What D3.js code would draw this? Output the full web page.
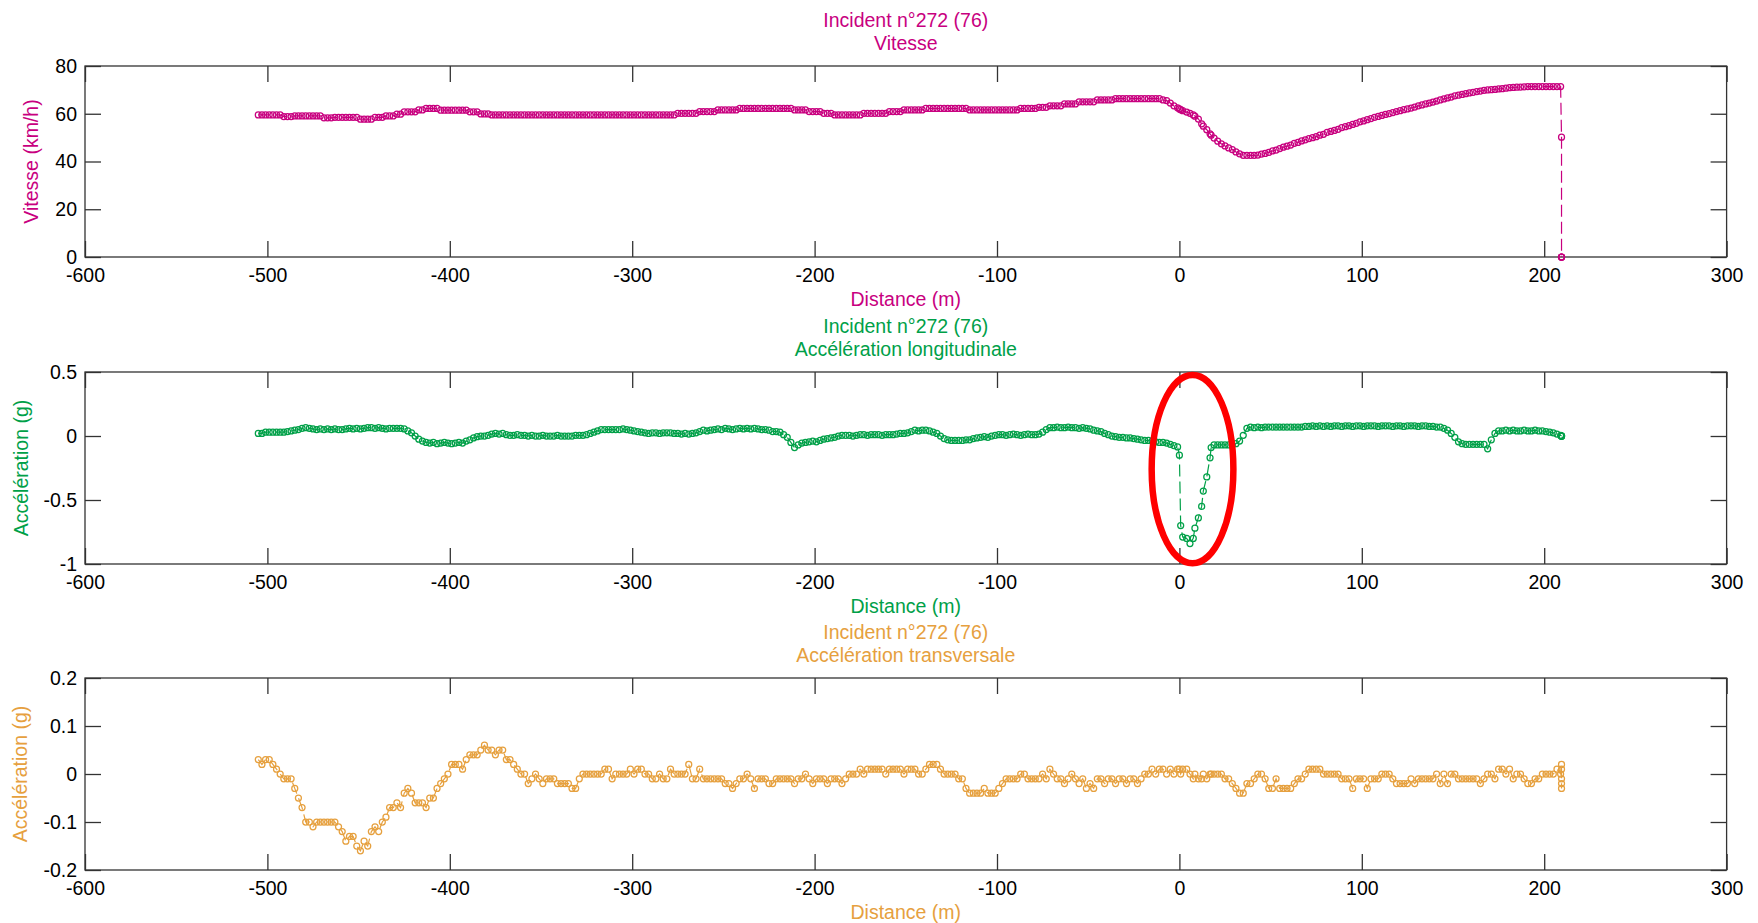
<!DOCTYPE html>
<html><head><meta charset="utf-8">
<script src="https://cdn.jsdelivr.net/npm/d3@7"></script>
<style>
html,body{margin:0;padding:0;background:#fff;}
svg{display:block;}
</style></head><body>
<svg id="chart" width="1758" height="923"></svg>
<script>
// ---------------- DATA ----------------
const distance = [
-505,-503,-501,-499,-497,-495,-493,-491,-489,-487,
-485,-483,-481,-479,-477,-475,-473,-471,-469,-467,
-465,-463,-461,-459,-457,-455,-453,-451,-449,-447,
-445,-443,-441,-439,-437,-435,-433,-431,-429,-427,
-425,-423,-421,-419,-417,-415,-413,-411,-409,-407,
-405,-403,-401,-399,-397,-395,-393,-391,-389,-387,
-385,-383,-381,-379,-377,-375,-373,-371,-369,-367,
-365,-363,-361,-359,-357,-355,-353,-351,-349,-347,
-345,-343,-341,-339,-337,-335,-333,-331,-329,-327,
-325,-323,-321,-319,-317,-315,-313,-311,-309,-307,
-305,-303,-301,-299,-297,-295,-293,-291,-289,-287,
-285,-283,-281,-279,-277,-275,-273,-271,-269,-267,
-265,-263,-261,-259,-257,-255,-253,-251,-249,-247,
-245,-243,-241,-239,-237,-235,-233,-231,-229,-227,
-225,-223,-221,-219,-217,-215,-213,-211,-209,-207,
-205,-203,-201,-199,-197,-195,-193,-191,-189,-187,
-185,-183,-181,-179,-177,-175,-173,-171,-169,-167,
-165,-163,-161,-159,-157,-155,-153,-151,-149,-147,
-145,-143,-141,-139,-137,-135,-133,-131,-129,-127,
-125,-123,-121,-119,-117,-115,-113,-111,-109,-107,
-105,-103,-101,-99,-97,-95,-93,-91,-89,-87,
-85,-83,-81,-79,-77,-75,-73,-71,-69,-67,
-65,-63,-61,-59,-57,-55,-53,-51,-49,-47,
-45,-43,-41,-39,-37,-35,-33,-31,-29,-27,
-25,-23,-21,-19,-17,-15,-13,-11,-9,-7,
-5,-3,-1,
0,0.7,1.8,4.0,5.8,7.6,8.5,10.4,12.2,13.1,15.0,16.8,17.4,
19,21,23,25,27,29,31,33,35,37,
39,41,43,45,47,49,51,53,55,57,
59,61,63,65,67,69,71,73,75,77,
79,81,83,85,87,89,91,93,95,97,
99,101,103,105,107,109,111,113,115,117,
119,121,123,125,127,129,131,133,135,137,
139,141,143,145,147,149,151,153,155,157,
159,161,163,165,167,169,171,173,175,177,
179,181,183,185,187,189,191,193,195,197,
199,201,203,205,207,209,
209.5,209.5,209.5,209.5,209.5
];

const vitesse = [
59.5,59.5,59.5,59.5,59.5,59.5,59.5,58.8,58.8,58.8,
59.1,59.1,59.1,59.1,59.1,59.1,59.1,59.1,58.3,58.3,
58.3,58.5,58.5,58.5,58.5,58.5,58.5,58.5,57.7,57.7,
57.7,57.7,58.5,58.5,58.5,59.1,59.1,59.1,59.8,59.8,
60.8,60.8,60.8,60.8,61.6,61.6,62.2,62.2,62.2,62.2,
61.5,61.5,61.5,61.5,61.5,61.5,61.5,61.5,60.8,60.8,
60.8,59.9,59.9,59.9,59.5,59.5,59.5,59.5,59.5,59.5,
59.5,59.5,59.5,59.5,59.5,59.5,59.5,59.5,59.5,59.5,
59.5,59.5,59.5,59.5,59.5,59.5,59.5,59.5,59.5,59.5,
59.5,59.5,59.5,59.5,59.5,59.5,59.5,59.5,59.5,59.5,
59.5,59.5,59.5,59.5,59.5,59.5,59.5,59.5,59.5,59.5,
59.5,59.5,59.5,59.5,59.5,60.2,60.2,60.2,60.2,60.2,
60.2,60.9,60.9,60.9,60.9,60.9,61.6,61.6,61.6,61.6,
61.6,61.6,62.2,62.2,62.2,62.2,62.2,62.2,62.2,62.2,
62.2,62.2,62.2,62.2,62.2,62.2,62.2,61.6,61.6,61.6,
61.6,60.9,60.9,60.9,60.9,60.2,60.2,60.2,59.5,59.5,
59.5,59.5,59.5,59.5,59.5,59.5,60.2,60.2,60.2,60.2,
60.2,60.2,60.2,60.9,60.9,60.9,60.9,61.6,61.6,61.6,
61.6,61.6,61.6,62.2,62.2,62.2,62.2,62.2,62.2,62.2,
62.2,62.2,62.2,62.2,62.2,61.6,61.6,61.6,61.6,61.6,
61.6,61.6,61.6,61.6,61.6,61.6,61.6,61.6,61.6,62.2,
62.2,62.2,62.2,62.2,62.7,62.7,62.7,63.3,63.3,63.3,
63.3,64.1,64.1,64.1,64.1,65.0,65.0,65.0,65.0,65.0,
65.8,65.8,65.8,65.8,65.8,66.3,66.3,66.3,66.3,66.3,
66.3,66.3,66.3,66.3,66.3,66.3,66.3,66.3,65.8,65.5,
64.5,63.3,62.5,
62.0,61.7,61.3,60.7,60.2,59.5,59.0,57.8,55.8,54.8,53.3,51.6,51.0,
49.8,48.5,47.4,46.5,45.7,45.0,44.0,43.2,42.6,42.6,
42.6,42.6,42.7,43.1,43.4,43.8,44.4,44.8,45.4,46.0,
46.4,46.9,47.6,48.0,48.6,49.1,49.6,50.0,50.4,51.0,
51.4,52.2,52.6,53.0,53.5,54.2,54.6,55.0,55.5,56.0,
56.6,57.0,57.5,58.0,58.5,58.9,59.3,59.7,60.1,60.5,
60.9,61.3,61.7,62.0,62.4,62.8,63.3,63.7,64.1,64.5,
64.9,65.3,65.8,66.2,66.6,67.0,67.5,67.8,68.1,68.4,
68.7,69.0,69.3,69.5,69.8,70.0,70.1,70.2,70.4,70.5,
70.7,70.9,71.0,71.1,71.2,71.3,71.4,71.4,71.4,71.4,
71.4,71.4,71.4,71.4,71.4,71.4,
50.2,0,0,0,0
];

const accLong = [
0.02,0.02,0.03,0.03,0.03,0.03,0.03,0.03,0.035,0.04,
0.045,0.05,0.06,0.065,0.06,0.055,0.05,0.055,0.05,0.055,
0.05,0.055,0.05,0.05,0.055,0.06,0.055,0.06,0.055,0.06,
0.065,0.065,0.06,0.065,0.06,0.055,0.06,0.06,0.06,0.06,
0.055,0.04,0.025,0.0,-0.025,-0.04,-0.05,-0.055,-0.05,-0.06,
-0.055,-0.05,-0.055,-0.06,-0.055,-0.05,-0.055,-0.04,-0.03,-0.015,
-0.005,0.0,0.0,0.005,0.015,0.02,0.015,0.02,0.01,0.005,
0.005,0.01,0.005,0.005,0.0,0.005,0.0,0.0,0.005,0.0,
0.0,0.0,0.005,0.0,0.0,0.0,0.0,0.005,0.005,0.005,
0.01,0.02,0.03,0.04,0.05,0.05,0.05,0.05,0.05,0.05,
0.055,0.05,0.045,0.04,0.035,0.03,0.025,0.02,0.025,0.025,
0.02,0.025,0.025,0.025,0.02,0.02,0.015,0.02,0.015,0.02,
0.025,0.035,0.045,0.04,0.045,0.05,0.055,0.05,0.06,0.055,
0.05,0.055,0.06,0.055,0.06,0.055,0.06,0.055,0.05,0.05,
0.045,0.035,0.035,0.03,0.01,-0.01,-0.05,-0.09,-0.07,-0.055,
-0.05,-0.045,-0.04,-0.045,-0.035,-0.025,-0.02,-0.015,-0.01,0.0,
0.005,0.005,0.005,0.0,0.005,0.01,0.01,0.005,0.01,0.01,
0.01,0.005,0.01,0.01,0.01,0.015,0.02,0.02,0.025,0.035,
0.045,0.04,0.045,0.045,0.04,0.03,0.02,0.0,-0.02,-0.03,
-0.035,-0.035,-0.035,-0.035,-0.03,-0.03,-0.02,-0.015,-0.01,-0.005,
-0.01,0.0,0.005,0.01,0.01,0.005,0.01,0.015,0.01,0.005,
0.01,0.015,0.01,0.01,0.015,0.03,0.05,0.065,0.065,0.07,
0.065,0.065,0.07,0.065,0.065,0.06,0.065,0.06,0.055,0.045,
0.04,0.035,0.02,0.01,0.0,-0.005,-0.01,-0.01,-0.015,-0.015,
-0.02,-0.025,-0.03,-0.035,-0.035,-0.04,-0.045,-0.05,-0.05,-0.055,
-0.065,-0.075,-0.085,
-0.15,-0.70,-0.79,-0.80,-0.84,-0.80,-0.72,-0.64,-0.55,-0.43,-0.32,-0.17,-0.09,
-0.07,-0.07,-0.07,-0.07,-0.07,-0.07,-0.06,-0.04,0.005,0.06,
0.07,0.065,0.07,0.065,0.07,0.07,0.07,0.07,0.07,0.07,
0.07,0.07,0.07,0.07,0.07,0.075,0.075,0.08,0.075,0.08,
0.075,0.08,0.075,0.08,0.08,0.075,0.08,0.08,0.075,0.08,
0.08,0.075,0.08,0.08,0.08,0.075,0.08,0.08,0.08,0.075,
0.08,0.08,0.075,0.08,0.08,0.08,0.075,0.08,0.08,0.075,
0.075,0.07,0.07,0.06,0.045,0.02,-0.01,-0.045,-0.06,-0.065,
-0.065,-0.065,-0.065,-0.065,-0.065,-0.1,-0.03,0.02,0.04,0.04,
0.045,0.04,0.045,0.04,0.04,0.045,0.04,0.04,0.045,0.04,
0.04,0.035,0.03,0.025,0.015,0.005,
0,0,0,0,0
];

const accTrans = [
0.03,0.02,0.03,0.03,0.02,0.01,0.0,-0.01,-0.01,-0.01,
-0.03,-0.05,-0.07,-0.1,-0.1,-0.11,-0.1,-0.1,-0.1,-0.1,
-0.1,-0.1,-0.11,-0.12,-0.14,-0.13,-0.13,-0.15,-0.16,-0.14,
-0.15,-0.12,-0.11,-0.12,-0.1,-0.09,-0.07,-0.07,-0.06,-0.07,
-0.04,-0.03,-0.04,-0.06,-0.06,-0.06,-0.07,-0.05,-0.05,-0.03,
-0.02,-0.01,0.0,0.02,0.02,0.02,0.01,0.03,0.04,0.04,
0.04,0.05,0.06,0.05,0.05,0.04,0.05,0.05,0.03,0.03,
0.02,0.01,0.0,0.0,-0.02,-0.01,0.0,-0.01,-0.02,-0.01,
-0.01,-0.01,-0.02,-0.02,-0.02,-0.02,-0.03,-0.03,-0.01,0.0,
0.0,0.0,0.0,0.0,0.0,0.01,0.01,-0.01,0.0,0.0,
0.0,0.0,0.01,0.0,0.01,0.01,0.0,0.0,-0.01,-0.01,
0.0,-0.01,-0.01,0.01,0.0,0.0,0.0,0.0,0.02,-0.01,
-0.01,0.01,-0.01,-0.01,-0.01,-0.01,-0.01,-0.01,-0.02,-0.02,
-0.03,-0.02,-0.01,-0.01,0.0,-0.01,-0.03,-0.01,-0.01,-0.01,
-0.02,-0.02,-0.01,-0.01,-0.01,-0.01,-0.01,-0.02,-0.01,-0.01,
0.0,-0.01,-0.02,-0.01,-0.01,-0.01,-0.02,-0.01,-0.01,-0.01,
-0.02,-0.01,0.0,0.0,0.0,0.01,0.0,0.01,0.01,0.01,
0.01,0.01,0.0,0.01,0.01,0.01,0.01,0.0,0.01,0.01,
0.01,0.0,0.0,0.01,0.02,0.02,0.02,0.01,0.0,0.0,
0.0,0.0,-0.01,-0.01,-0.03,-0.04,-0.04,-0.04,-0.04,-0.03,
-0.04,-0.04,-0.04,-0.03,-0.02,-0.01,-0.01,-0.01,-0.01,0.0,
0.0,-0.01,-0.01,-0.01,-0.01,0.0,-0.01,0.01,0.0,-0.01,
-0.01,-0.02,-0.01,0.0,-0.01,-0.02,-0.01,-0.03,-0.02,-0.03,
-0.01,-0.01,-0.02,-0.01,-0.01,-0.02,-0.01,-0.01,-0.02,-0.01,
-0.01,-0.02,-0.01,0.0,0.0,0.01,0.0,0.01,0.01,0.0,
0.01,0.0,0.01,
0.01,0.0,0.01,0.01,0.0,-0.01,0.0,-0.01,-0.01,0.0,-0.01,0.0,0.0,
0.0,0.0,0.0,-0.01,-0.01,-0.02,-0.03,-0.04,-0.04,-0.02,
-0.02,-0.01,0.0,0.0,-0.01,-0.03,-0.03,-0.01,-0.03,-0.03,
-0.03,-0.03,-0.02,-0.01,-0.01,0.0,0.01,0.01,0.01,0.01,
0.0,0.0,0.0,0.0,0.0,-0.01,-0.01,-0.01,-0.03,-0.01,
-0.01,-0.01,-0.03,-0.01,-0.01,-0.01,0.0,0.0,0.0,-0.01,
-0.02,-0.02,-0.02,-0.02,-0.01,-0.02,-0.01,-0.01,-0.01,-0.01,
-0.01,0.0,-0.02,0.0,-0.02,0.0,0.0,-0.01,-0.01,-0.01,
-0.01,-0.01,-0.01,-0.02,-0.01,0.0,0.0,-0.01,0.01,0.01,
0.0,0.01,-0.01,0.0,0.0,-0.01,-0.02,-0.02,-0.01,-0.01,
0.0,0.0,0.0,0.0,0.01,0.0,
0.02,0.01,-0.01,-0.02,-0.03
];

const xTicks = [-600,-500,-400,-300,-200,-100,0,100,200,300];
const vitesseTicks = [0,20,40,60,80];
const accLongTicks = [-1,-0.5,0,0.5];
const accTransTicks = [-0.2,-0.1,0,0.1,0.2];

const titleLine1 = "Incident n°272 (76)";
const panelTitles = ["Vitesse", "Accélération longitudinale", "Accélération transversale"];
const yLabels = ["Vitesse (km/h)", "Accélération (g)", "Accélération (g)"];
const xLabel = "Distance (m)";
// annotation ellipse (data units of panel 2): centre, half-widths
const highlight = {x: 7.2, y: -0.259, rx: 22.4, ry: 0.736};

// ---------------- LAYOUT ----------------
const FONT = '"Liberation Sans", Arial, sans-serif';
const FS = 19.5;
const svg = d3.select("#chart");
const x = d3.scaleLinear().domain([-600, 300]).range([85, 1726.6]);

const panels = [
  {values: vitesse, ticks: vitesseTicks, domain: [0, 80], top: 66, bottom: 257, color: "#C8007F", title: panelTitles[0], ylab: yLabels[0], ylabX: 31},
  {values: accLong, ticks: accLongTicks, domain: [-1, 0.5], top: 372, bottom: 564, color: "#00A048", title: panelTitles[1], ylab: yLabels[1], ylabX: 21},
  {values: accTrans, ticks: accTransTicks, domain: [-0.2, 0.2], top: 678, bottom: 870, color: "#E6A03E", title: panelTitles[2], ylab: yLabels[2], ylabX: 20}
];

const n = Math.min(distance.length, vitesse.length, accLong.length, accTrans.length);

const [xl, xr] = x.range();
const cx = (xl + xr) / 2;

function styleAxis(g) {
  g.attr("font-family", FONT).attr("font-size", FS).style("color", "#333");
  g.select(".domain").remove();
  g.selectAll(".tick line").attr("stroke", "#333").attr("stroke-width", 1.3);
  g.selectAll(".tick text").attr("fill", "#000");
}

panels.forEach((p, pi) => {
  const y = d3.scaleLinear().domain(p.domain).range([p.bottom, p.top]);
  const g = svg.append("g");

  // titles
  g.append("text").attr("x", cx).attr("y", p.top - 46).attr("text-anchor", "middle")
    .attr("dominant-baseline", "central").attr("font-family", FONT).attr("font-size", FS)
    .attr("fill", p.color).text(titleLine1);
  g.append("text").attr("x", cx).attr("y", p.top - 23).attr("text-anchor", "middle")
    .attr("dominant-baseline", "central").attr("font-family", FONT).attr("font-size", FS)
    .attr("fill", p.color).text(p.title);

  // axes (inward ticks on all four sides)
  const gb = g.append("g").attr("transform", `translate(0,${p.bottom})`)
    .call(d3.axisBottom(x).tickValues(xTicks).tickSizeInner(-16).tickSizeOuter(0).tickPadding(11).tickFormat(d => String(d)));
  styleAxis(gb);
  const gt = g.append("g").attr("transform", `translate(0,${p.top})`)
    .call(d3.axisTop(x).tickValues(xTicks).tickSizeInner(-16).tickSizeOuter(0).tickFormat(() => ""));
  styleAxis(gt);
  const gl = g.append("g").attr("transform", `translate(${xl},0)`)
    .call(d3.axisLeft(y).tickValues(p.ticks).tickSizeInner(-16).tickSizeOuter(0).tickPadding(8).tickFormat(d => String(d)));
  styleAxis(gl);
  const gr = g.append("g").attr("transform", `translate(${xr},0)`)
    .call(d3.axisRight(y).tickValues(p.ticks).tickSizeInner(-16).tickSizeOuter(0).tickFormat(() => ""));
  styleAxis(gr);

  // box
  g.append("rect").attr("x", xl).attr("y", p.top).attr("width", xr - xl).attr("height", p.bottom - p.top)
    .attr("fill", "none").attr("stroke", "#333").attr("stroke-width", 1.3);

  // labels
  g.append("text").attr("x", cx).attr("y", p.bottom + 42).attr("text-anchor", "middle")
    .attr("dominant-baseline", "central").attr("font-family", FONT).attr("font-size", FS)
    .attr("fill", p.color).text(xLabel);
  const ym = (p.top + p.bottom) / 2;
  g.append("text").attr("transform", `translate(${p.ylabX},${ym}) rotate(-90)`).attr("text-anchor", "middle")
    .attr("dominant-baseline", "central").attr("font-family", FONT).attr("font-size", FS)
    .attr("fill", p.color).text(p.ylab);

  // data
  const pts = d3.range(n).map(i => [distance[i], p.values[i]]);
  const line = d3.line().x(d => x(d[0])).y(d => y(d[1]));
  g.append("path").datum(pts).attr("d", line).attr("fill", "none")
    .attr("stroke", p.color).attr("stroke-width", 1.2).attr("stroke-dasharray", "12,5");
  g.append("g").selectAll("circle").data(pts).join("circle")
    .attr("cx", d => x(d[0])).attr("cy", d => y(d[1])).attr("r", 3)
    .attr("fill", "none").attr("stroke", p.color).attr("stroke-width", 1.25);

  if (pi === 1) {
    g.append("ellipse")
      .attr("cx", x(highlight.x)).attr("cy", y(highlight.y))
      .attr("rx", x(highlight.x + highlight.rx) - x(highlight.x))
      .attr("ry", y(highlight.y - highlight.ry) - y(highlight.y))
      .attr("fill", "none").attr("stroke", "#FF0000").attr("stroke-width", 6.5);
  }
});
</script>
</body></html>
